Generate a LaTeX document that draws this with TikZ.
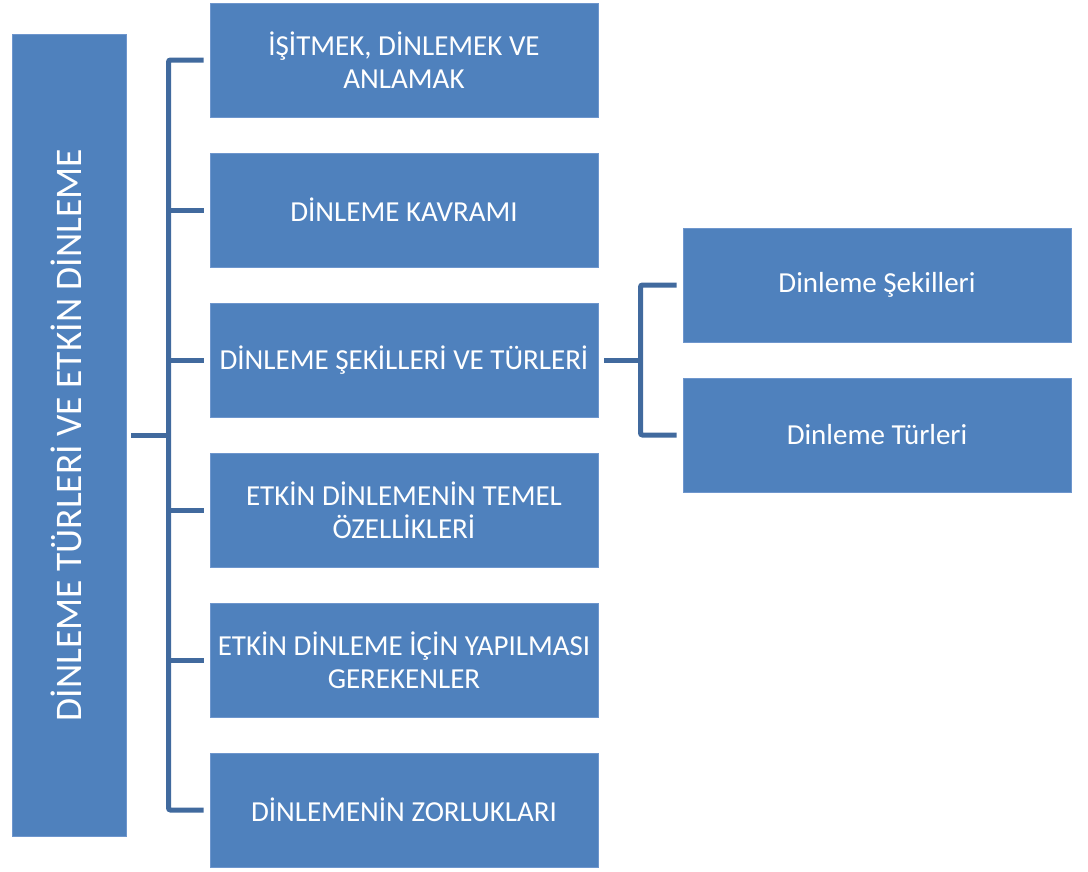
\documentclass[tikz,border=0pt]{standalone}
\usepackage{fontspec}
\setmainfont{Carlito}
\definecolor{boxblue}{RGB}{79,129,189}
\definecolor{boxedge}{RGB}{110,150,205}
\definecolor{linkblue}{RGB}{65,106,158}
\tikzset{
  box/.style={draw=boxedge, line width=0.8pt, fill=boxblue, text=white, minimum width=388pt, minimum height=114pt, inner sep=0pt, align=center, font=\fontsize{29}{33}\selectfont},
  bigbox/.style={draw=boxedge, line width=0.8pt, fill=boxblue, text=white, minimum width=114pt, minimum height=802pt, inner sep=0pt},
  conn/.style={draw=linkblue, line width=5pt},
  elbow/.style={conn, rounded corners=2pt}
}
\begin{document}
\begin{tikzpicture}[x=1pt,y=-1pt]
\useasboundingbox (0,0) rectangle (1088,871);
\node[bigbox] (L) at (69,435) {};
\node[text=white, rotate=90, font=\fontsize{37.5}{45}\selectfont] (Lt) at (66,435) {DİNLEME TÜRLERİ VE ETKİN DİNLEME};
\node[box] (b1) at (404,60) {İŞİTMEK, DİNLEMEK VE\\ANLAMAK};
\node[box] (b2) at (404,210) {DİNLEME KAVRAMI};
\node[box] (b3) at (404,360) {DİNLEME ŞEKİLLERİ VE TÜRLERİ};
\node[box] (b4) at (404,510) {ETKİN DİNLEMENİN TEMEL\\ÖZELLİKLERİ};
\node[box] (b5) at (404,660) {ETKİN DİNLEME İÇİN YAPILMASI\\GEREKENLER};
\node[box] (b6) at (404,810) {DİNLEMENİN ZORLUKLARI};
\node[box] (r1) at (877,285) {Dinleme Şekilleri};
\node[box] (r2) at (877,435) {Dinleme Türleri};
\coordinate (bus) at (168.5,0);
\coordinate (rbus) at (640.5,0);
% main bracket
\draw[elbow] ([xshift=-6pt]b1.west) -| (b6.west -| bus) -- ([xshift=-6pt]b6.west);
\draw[conn] ([xshift=-6pt]b2.west) -- (b2.west -| bus);
\draw[conn] ([xshift=-6pt]b3.west) -- (b3.west -| bus);
\draw[conn] ([xshift=-6pt]b4.west) -- (b4.west -| bus);
\draw[conn] ([xshift=-6pt]b5.west) -- (b5.west -| bus);
\draw[conn] ([xshift=5pt]L.east) -- (L.east -| bus);
% right bracket
\draw[conn] ([xshift=6pt]b3.east) -- (b3.east -| rbus);
\draw[elbow] ([xshift=-6pt]r1.west) -| (r2.west -| rbus) -- ([xshift=-6pt]r2.west);
\end{tikzpicture}
\end{document}
